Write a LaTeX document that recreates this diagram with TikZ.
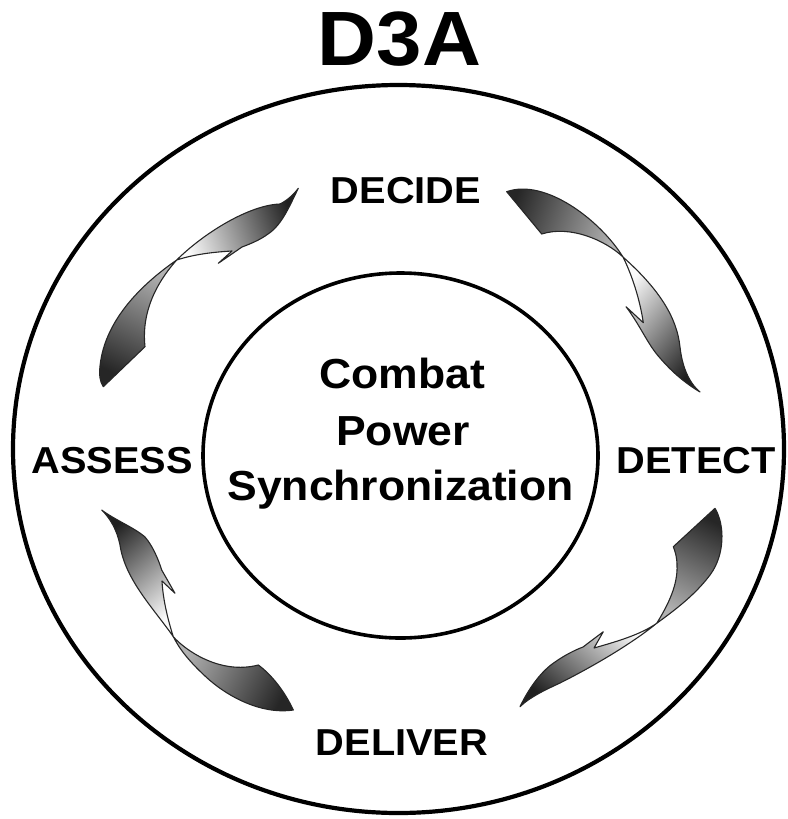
\documentclass[tikz,border=0pt]{standalone}
\usepackage{fontspec}
\setmainfont{Liberation Sans}[FakeStretch=1.06]
\begin{document}
\begin{tikzpicture}[x=1pt,y=-1pt,
  ring/.style={draw=black},
  label/.style={font=\bfseries\fontsize{37.5}{40}\selectfont, inner sep=0pt, anchor=base},
  core/.style={font=\bfseries\fontsize{42}{50}\selectfont, inner sep=0pt, anchor=base},
  ribbon/.style={draw=black!85, line width=1.1pt, line join=round},
  % #1 = direction (degrees) in which the dark end of the gradient lies
  tailpart/.style={ribbon, top color=gray!30!black, bottom color=gray!60, shading angle={#1-90}},
  headpart/.style={ribbon, top color=gray!25!black, bottom color=gray!4, shading angle={#1-90}}]
\useasboundingbox (0,0) rectangle (787,819);

% rings
\draw[ring, line width=4.2pt] (398.5,449) ellipse [x radius=385.5, y radius=364];
\draw[ring, line width=3.6pt] (400.5,455.5) ellipse [x radius=197.5, y radius=182.5];

% title and stage labels
\node[font=\bfseries\fontsize{77}{80}\selectfont, inner sep=0pt, anchor=base] (title) at (399.5,65) {D3A};
\node[label] (decide)  at (406,203) {DECIDE};
\node[label] (detect)  at (696,473) {DETECT};
\node[label] (deliver) at (402,755) {DELIVER};
\node[label] (assess)  at (112,473) {ASSESS};

% centre text
\node[core] (c1) at (402.5,388) {Combat};
\node[core] (c2) at (403,445) {Power};
\node[core] (c3) at (400.5,500) {Synchronization};

% DECIDE -> DETECT
\shade[tailpart=160] (506.7,191.7) .. controls (545,178) and (600,220) .. (623,257)
  .. controls (605,240) and (570,225) .. (541.7,234) -- cycle;
\shade[headpart=-40] (623,257) .. controls (632,275) and (640,300) .. (643.3,322.7)
  -- (626,306.7) .. controls (640,325) and (648,345) .. (660,358)
  .. controls (672,372) and (685,383) .. (700,392)
  .. controls (688,382) and (682,365) .. (680,347)
  .. controls (677,318) and (660,290) .. (623,257) -- cycle;

% DETECT -> DELIVER
\shade[tailpart=63] (715,508.3) .. controls (725,525) and (725,555) .. (710,575)
  .. controls (695,595) and (675,610) .. (656.7,623.3)
  .. controls (668,605) and (678,585) .. (677,565)
  .. controls (677,557) and (675,551) .. (673.3,546.7) -- cycle;
\shade[headpart=230] (656.7,623.3) .. controls (630,645) and (590,668) .. (560,683)
  .. controls (545,690) and (530,697) .. (520,706.7)
  .. controls (528,690) and (540,672) .. (555,662)
  .. controls (565,655) and (575,650) .. (583,647)
  -- (603.3,631.7) -- (594,648)
  .. controls (615,642) and (640,635) .. (656.7,623.3) -- cycle;

% DELIVER -> ASSESS
\shade[tailpart=-27] (258.3,665) .. controls (272,675) and (285,692) .. (293.3,710)
  .. controls (260,715) and (225,695) .. (205,676)
  .. controls (190,662) and (180,650) .. (173.3,636.7)
  .. controls (185,650) and (220,675) .. (258.3,665) -- cycle;
\shade[headpart=130] (173.3,636.7) .. controls (155,610) and (125,580) .. (120,545)
  .. controls (117,530) and (110,518) .. (101.7,510)
  .. controls (115,520) and (135,528) .. (145,537)
  .. controls (152,545) and (158,558) .. (161.7,570)
  -- (175,593.3) -- (162,581)
  .. controls (163,600) and (168,620) .. (173.3,636.7) -- cycle;

% ASSESS -> DECIDE
\shade[tailpart=244] (103.3,386.7) -- (145,346.7)
  .. controls (142,320) and (150,290) .. (176.7,260)
  .. controls (145,282) and (105,318) .. (100,366)
  .. controls (99,375) and (100,382) .. (103.3,386.7) -- cycle;
\shade[headpart=20] (176.7,260) .. controls (205,232) and (250,205) .. (280,204)
  .. controls (288,200) and (294,194) .. (298.3,188.3)
  .. controls (290,205) and (282,225) .. (268,234)
  .. controls (260,240) and (250,244) .. (242,247)
  -- (218.3,263.3) -- (232,251)
  .. controls (215,252) and (195,254) .. (176.7,260) -- cycle;
\end{tikzpicture}
\end{document}
